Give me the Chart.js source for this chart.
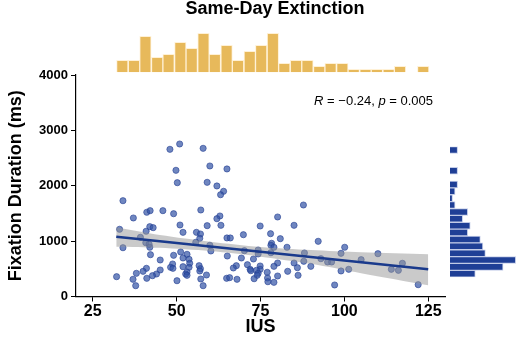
<!DOCTYPE html>
<html>
<head>
<meta charset="utf-8">
<script src="https://cdn.jsdelivr.net/npm/chart.js@4.4.1/dist/chart.umd.min.js"></script>
<style>
  html, body { margin: 0; padding: 0; background: #fff; }
  #wrap { position: relative; width: 520px; height: 347px; overflow: hidden; }
  #wrap canvas { position: absolute; }
  #title { position: absolute; left: 150px; width: 250px; top: -1px; text-align: center;
           font: bold 18px "Liberation Sans", Arial, sans-serif; line-height: 18px; color: #000; }
</style>
</head>
<body>
<div id="wrap">
  <canvas id="mainChart" width="520" height="347" style="left:0;top:0"></canvas>
  <canvas id="topHist" width="520" height="75" style="left:0;top:0"></canvas>
  <canvas id="rightHist" width="70" height="347" style="left:450px;top:0"></canvas>
  <div id="title">Same-Day Extinction</div>
</div>
<script>
const FONT = '"Liberation Sans", Arial, Helvetica, sans-serif';
Chart.defaults.font.family = FONT;
Chart.defaults.color = '#000';

// scatter: IUS score vs fixation duration (ms)
const iusValues = [
  50.9, 48.0, 57.9, 49.8, 50.2, 59.9, 59.1, 34.0, 37.1, 41.1,
  42.1, 45.9, 49.1, 57.2, 51.0, 42.0, 43.0, 33.0, 40.9, 51.9,
  59.1, 55.9, 57.1, 56.9, 39.2, 40.8, 41.8, 42.0, 34.0, 55.7,
  42.2, 49.1, 51.2, 53.1, 51.9, 53.7, 53.9, 51.9, 53.7, 53.1,
  52.7, 53.1, 45.1, 48.8, 48.2, 48.9, 45.1, 44.0, 42.8, 41.0,
  40.0, 41.1, 38.0, 37.0, 37.8, 32.1, 50.1, 56.7, 57.1, 56.9,
  58.9, 57.2, 57.9, 59.9, 60.2, 65.0, 62.0, 64.0, 63.1, 62.9,
  62.0, 63.2, 87.8, 80.1, 74.9, 85.0, 65.0, 66.0, 69.9, 78.0,
  80.9, 82.9, 78.3, 78.1, 79.0, 70.2, 65.1, 74.3, 74.3, 78.1,
  88.1, 87.9, 69.3, 72.9, 80.1, 79.0, 85.0, 86.0, 90.0, 67.8,
  66.9, 71.1, 71.9, 72.1, 74.9, 74.9, 73.8, 74.3, 74.0, 77.0,
  83.1, 86.2, 73.1, 64.9, 65.8, 68.0, 77.1, 77.2, 79.0, 80.1,
  92.2, 100.1, 99.0, 110.0, 93.0, 95.0, 96.2, 105.0, 99.0, 101.3,
  114.0, 116.1, 117.3, 97.1, 122.0
];
const fixationMs = [
  2754, 2658, 2676, 2279, 2055, 2357, 2062, 1730, 1418, 1521,
  1550, 1550, 1495, 1562, 1291, 1261, 1243, 1214, 1178, 1159,
  1279, 1159, 1129, 1051, 1069, 972, 943, 889, 881, 979,
  755, 744, 804, 762, 695, 672, 600, 538, 527, 442,
  406, 383, 659, 587, 527, 509, 479, 406, 376, 509,
  455, 329, 419, 311, 195, 358, 285, 556, 502, 461,
  388, 316, 195, 925, 822, 2303, 1996, 1900, 1838, 1454,
  1405, 1286, 1652, 1436, 1273, 1286, 1057, 1057, 1116, 1134,
  1044, 889, 961, 925, 889, 827, 731, 840, 768, 791,
  786, 636, 695, 677, 605, 545, 605, 520, 545, 556,
  515, 574, 491, 466, 551, 491, 473, 419, 383, 437,
  455, 383, 321, 329, 340, 311, 334, 267, 256, 370,
  997, 889, 780, 773, 683, 623, 623, 665, 461, 491,
  491, 473, 600, 208, 213
];
const xTicks = [25, 50, 75, 100, 125];
const yTicks = [0, 1000, 2000, 3000, 4000];

// regression line and confidence band
const fitIus = [32, 45, 60, 75, 90, 105, 125];
const fitMs = [1080, 998, 903, 808, 713, 618, 491];
const bandHiMs = [1250, 1110, 990, 895, 840, 800, 762];
const bandLoMs = [900, 880, 820, 720, 590, 420, 202];

// marginal histograms
const iusBinCenters = [33.8, 37.3, 40.7, 44.2, 47.6, 51.1, 54.5, 58.0, 61.4, 64.9, 68.3, 71.8, 75.2, 78.7,
  82.1, 85.6, 89.0, 92.5, 95.9, 99.4, 102.8, 106.3, 109.7, 113.2, 116.6, 120.1, 123.5];
const iusCounts = [4, 4, 12, 5, 6, 10, 8, 13, 6, 9, 4, 7, 9, 13, 3, 4, 4, 2, 3, 3, 1, 1, 1, 1, 2, 0, 2];
const msBinCenters = [2754, 2612, 2470, 2328, 2186, 2044, 1902, 1760, 1618, 1476,
  1334, 1192, 1050, 908, 766, 624, 482, 340, 198];
const msCounts = [3, 0, 0, 3, 0, 3, 2, 1, 2, 7, 5, 8, 7, 12, 13, 14, 26, 21, 10];

const corrR = '\u22120.24';
const corrP = '0.005';

const corrLabel = {
  id: 'corrLabel',
  afterDraw(chart) {
    const { ctx, chartArea } = chart;
    const parts = [['R', true], [' = ' + corrR + ', ', false], ['p', true], [' = ' + corrP, false]];
    const fontFor = (it) => `${it ? 'italic ' : ''}13px ${FONT}`;
    ctx.save();
    ctx.fillStyle = '#000';
    ctx.textBaseline = 'middle';
    let w = 0;
    parts.forEach(([t, it]) => { ctx.font = fontFor(it); w += ctx.measureText(t).width; });
    let x = chartArea.right - 12 - w;
    const y = chartArea.top + 26;
    parts.forEach(([t, it]) => {
      ctx.font = fontFor(it);
      ctx.fillText(t, x, y);
      x += ctx.measureText(t).width;
    });
    ctx.restore();
  }
};

const pts = iusValues.map((x, i) => ({ x, y: fixationMs[i] }));
const fitLine = (ys) => fitIus.map((x, i) => ({ x, y: ys[i] }));

new Chart(document.getElementById('mainChart'), {
  type: 'scatter',
  data: {
    datasets: [
      { type: 'line', data: fitLine(bandHiMs), borderColor: 'rgba(0,0,0,0)', borderWidth: 0, pointRadius: 0,
        fill: '+1', backgroundColor: 'rgba(150,150,150,0.5)', tension: 0.3, order: 2 },
      { type: 'line', data: fitLine(bandLoMs), borderColor: 'rgba(0,0,0,0)', borderWidth: 0, pointRadius: 0,
        fill: false, tension: 0.3, order: 2 },
      { type: 'line', data: fitLine(fitMs), borderColor: '#1a3a8c', borderWidth: 2.6, pointRadius: 0,
        fill: false, order: 1 },
      { data: pts, pointRadius: 3.1, backgroundColor: 'rgba(50,82,165,0.7)',
        borderColor: 'rgba(35,62,145,0.85)', borderWidth: 0.7, order: 3 },
    ],
  },
  options: {
    responsive: false,
    animation: false,
    devicePixelRatio: 1,
    layout: { padding: { top: 75, right: 75, left: 0, bottom: 0 } },
    scales: {
      x: {
        type: 'linear', min: 20, max: 130,
        afterBuildTicks: (s) => { s.ticks = xTicks.map((v) => ({ value: v })); },
        afterFit: (s) => { s.height = 50.5; },
        grid: { drawOnChartArea: false, drawTicks: true, tickLength: 5, color: '#000' },
        border: { display: true, color: '#000', width: 1.2 },
        ticks: { font: { size: 16, weight: 'bold' }, color: '#000', padding: 0, maxRotation: 0,
                 callback: (v) => String(v) },
        title: { display: true, text: 'IUS', font: { size: 18, weight: 'bold' }, color: '#000',
                 padding: { top: 0, bottom: 9 } },
      },
      y: {
        type: 'linear', min: 0, max: 4000,
        afterBuildTicks: (s) => { s.ticks = yTicks.map((v) => ({ value: v })); },
        afterFit: (s) => { s.width = 76; },
        grid: { drawOnChartArea: false, drawTicks: true, tickLength: 5, color: '#000' },
        border: { display: true, color: '#000', width: 1.2 },
        ticks: { font: { size: 13, weight: 'bold' }, color: '#000', padding: 3,
                 callback: (v) => String(v) },
        title: { display: true, text: 'Fixation Duration (ms)', font: { size: 18, weight: 'bold' }, color: '#000',
                 padding: { top: 5, bottom: 0 } },
      },
    },
    plugins: { legend: { display: false }, tooltip: { enabled: false } },
  },
  plugins: [corrLabel],
});

new Chart(document.getElementById('topHist'), {
  type: 'bar',
  data: {
    datasets: [{
      data: iusBinCenters.map((x, i) => ({ x, y: iusCounts[i] })),
      backgroundColor: '#e7b95b', borderColor: 'rgba(255,240,210,0.9)', borderWidth: 1,
      barPercentage: 1, categoryPercentage: 1,
    }],
  },
  options: {
    responsive: false,
    animation: false,
    devicePixelRatio: 1,
    layout: { padding: { left: 76, right: 75, top: 30.3, bottom: 2.7 } },
    scales: {
      x: { type: 'linear', display: false, min: 20, max: 130, offset: false },
      y: { display: false, min: 0, max: 14 },
    },
    plugins: { legend: { display: false }, tooltip: { enabled: false } },
  },
});

new Chart(document.getElementById('rightHist'), {
  type: 'bar',
  data: {
    datasets: [{
      data: msBinCenters.map((y, i) => ({ x: msCounts[i], y })),
      backgroundColor: '#1f3f96', borderColor: 'rgba(190,200,230,0.9)', borderWidth: 1,
      barPercentage: 1, categoryPercentage: 1,
    }],
  },
  options: {
    indexAxis: 'y',
    responsive: false,
    animation: false,
    devicePixelRatio: 1,
    layout: { padding: { left: 0, right: 0, top: 146.6, bottom: 69.8 } },
    scales: {
      y: { type: 'linear', display: false, min: 127, max: 2825, offset: false },
      x: { display: false, min: 0, max: 27.7 },
    },
    plugins: { legend: { display: false }, tooltip: { enabled: false } },
  },
});
</script>
</body>
</html>
